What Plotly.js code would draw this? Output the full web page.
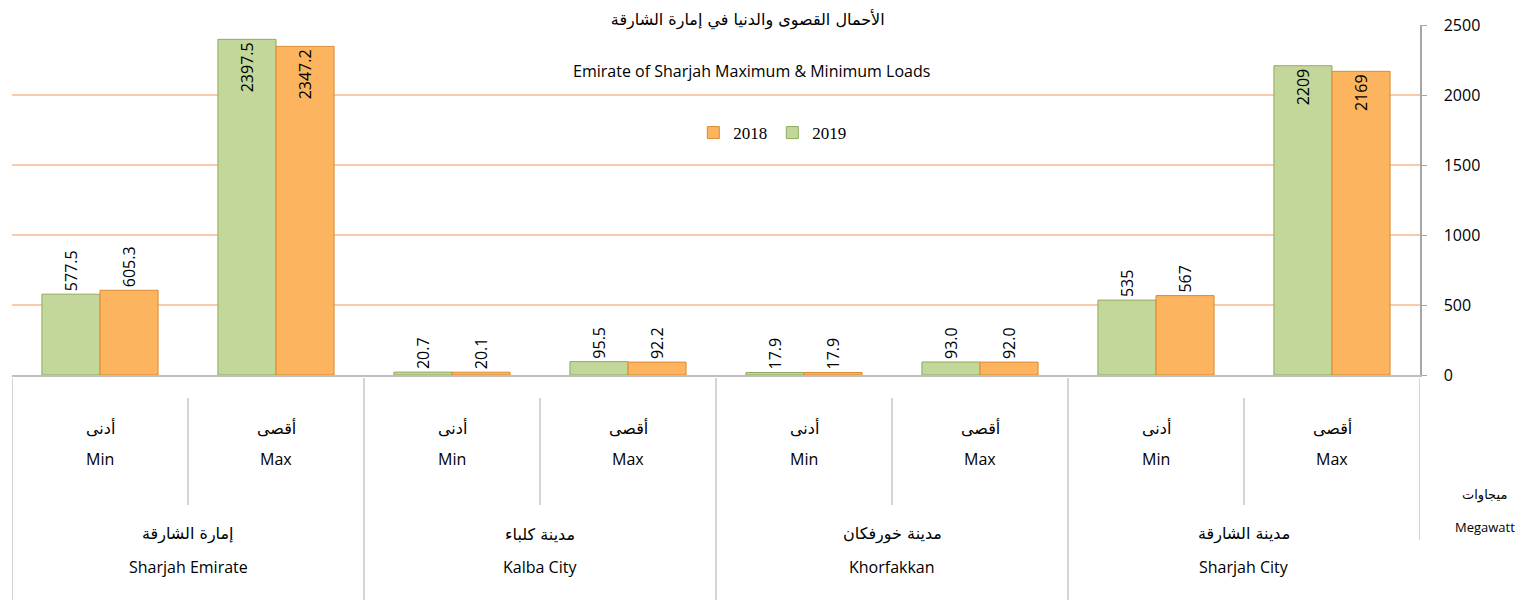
<!DOCTYPE html>
<html>
<head>
<meta charset="utf-8">
<script src="https://cdn.plot.ly/plotly-3.0.1.min.js"></script>
<style>html,body{margin:0;padding:0;background:#fff;}#chart{width:1526px;height:606px;}</style>
</head>
<body>
<div id="chart"></div>
<script>
// ---- data ----
const subAr = ['أدنى', 'أقصى', 'أدنى', 'أقصى', 'أدنى', 'أقصى', 'أدنى', 'أقصى'];
const subEn = ['Min', 'Max', 'Min', 'Max', 'Min', 'Max', 'Min', 'Max'];
const groupAr = ['إمارة الشارقة', 'مدينة كلباء', 'مدينة خورفكان', 'مدينة الشارقة'];
const groupEn = ['Sharjah Emirate', 'Kalba City', 'Khorfakkan', 'Sharjah City'];
const values2019 = [577.5, 2397.5, 20.7, 95.5, 17.9, 93.0, 535, 2209];
const values2018 = [605.3, 2347.2, 20.1, 92.2, 17.9, 92.0, 567, 2169];
const labels2019 = ['577.5', '2397.5', '20.7', '95.5', '17.9', '93.0', '535', '2209'];
const labels2018 = ['605.3', '2347.2', '20.1', '92.2', '17.9', '92.0', '567', '2169'];
const yTicks = [0, 500, 1000, 1500, 2000, 2500];

// ---- build ----
const catIdx = subEn.map((_, i) => i);
const pos = v => v.map(x => x > 1000 ? 'inside' : 'outside');
const numFont = {family: 'Open Sans, DejaVu Sans, sans-serif', size: 16, color: '#000'};

const traces = [
  {type: 'bar', name: '2019', x: catIdx, y: values2019, text: labels2019,
   textposition: pos(values2019), textangle: -90, insidetextanchor: 'end',
   textfont: numFont, cliponaxis: false,
   marker: {color: '#c4d79b', line: {color: '#8faa5c', width: 1}}},
  {type: 'bar', name: '2018', x: catIdx, y: values2018, text: labels2018,
   textposition: pos(values2018), textangle: -90, insidetextanchor: 'end',
   textfont: numFont, cliponaxis: false,
   marker: {color: '#fdb45e', line: {color: '#d98c33', width: 1}}}
];

// pixel helpers (plot area: top 25, bottom 375)
const H = 350;
const py = p => (375 - p) / H;

const arFont = {family: 'DejaVu Sans, sans-serif', size: 16, color: '#000'};
const enFont = {family: 'Open Sans, Lato, sans-serif', size: 16, color: '#000'};

const annotations = [];
catIdx.forEach(i => {
  annotations.push({x: i, xref: 'x', y: py(440), yref: 'paper', text: subAr[i], showarrow: false, font: arFont, xanchor: 'center'});
  annotations.push({x: i, xref: 'x', y: py(472), yref: 'paper', text: subEn[i], showarrow: false, font: enFont, xanchor: 'center'});
});
groupAr.forEach((g, k) => {
  annotations.push({x: 2 * k + 0.5, xref: 'x', y: py(546), yref: 'paper', text: g, showarrow: false, font: arFont, xanchor: 'center'});
  annotations.push({x: 2 * k + 0.5, xref: 'x', y: py(580), yref: 'paper', text: groupEn[k], showarrow: false, font: enFont, xanchor: 'center'});
});
annotations.push({x: 1.046, xref: 'paper', xanchor: 'center', y: py(505), yref: 'paper', text: 'ميجاوات', showarrow: false,
  font: {family: 'DejaVu Sans, sans-serif', size: 13, color: '#000'}});
annotations.push({x: 1.046, xref: 'paper', xanchor: 'center', y: py(538), yref: 'paper', text: 'Megawatt', showarrow: false,
  font: {family: 'Open Sans, sans-serif', size: 13, color: '#000'}});
annotations.push({x: 0.525, xref: 'paper', xanchor: 'center', y: py(58), yref: 'paper', text: 'Emirate of Sharjah Maximum & Minimum Loads',
  showarrow: false, font: {family: 'Open Sans, Lato, sans-serif', size: 16, color: '#000'}});

const shapes = [];
[0.5, 2.5, 4.5, 6.5].forEach(x => shapes.push({type: 'line', xref: 'x', yref: 'paper', x0: x, x1: x,
  y0: py(398), y1: py(505), line: {color: '#bfbfbf', width: 1.3}}));
[-0.5, 1.5, 3.5, 5.5, 7.5].forEach(x => shapes.push({type: 'line', xref: 'x', yref: 'paper', x0: x, x1: x,
  y0: py(378), y1: py(x === 7.5 ? 540 : 600), line: {color: '#bfbfbf', width: 1.3}}));

const layout = {
  width: 1526, height: 606,
  margin: {l: 12, r: 106, t: 25, b: 231},
  paper_bgcolor: '#fff', plot_bgcolor: '#fff',
  title: {text: 'الأحمال القصوى والدنيا في إمارة الشارقة', x: 0.49, xanchor: 'center', y: 0.968, yanchor: 'middle',
    font: {family: 'DejaVu Sans, sans-serif', size: 16, color: '#000'}},
  barmode: 'group', bargap: 0.34, bargroupgap: 0,
  showlegend: true,
  legend: {orientation: 'h', traceorder: 'reversed', x: 0.54, xanchor: 'center', y: py(133), yanchor: 'middle',
    font: {family: 'Liberation Serif, serif', size: 17, color: '#000'}, bgcolor: 'rgba(255,255,255,0)'},
  xaxis: {range: [-0.5, 7.5], showticklabels: false, showgrid: false, zeroline: false,
    showline: true, linecolor: '#bfbfbf', linewidth: 2, ticks: '', fixedrange: true},
  yaxis: {side: 'right', range: [0, 2500], tickvals: yTicks, ticktext: yTicks.map(String),
    showgrid: true, gridcolor: '#f8cbad', gridwidth: 1.5, zeroline: false,
    showline: true, linecolor: '#a6a6a6', linewidth: 1.5, ticks: 'outside', ticklen: 5, tickcolor: '#a6a6a6',
    ticklabelstandoff: 14,
    tickfont: {family: 'Open Sans, sans-serif', size: 16, color: '#000'}, fixedrange: true},
  annotations: annotations,
  shapes: shapes
};

Plotly.newPlot('chart', traces, layout, {displayModeBar: false, staticPlot: true});
</script>
</body>
</html>
